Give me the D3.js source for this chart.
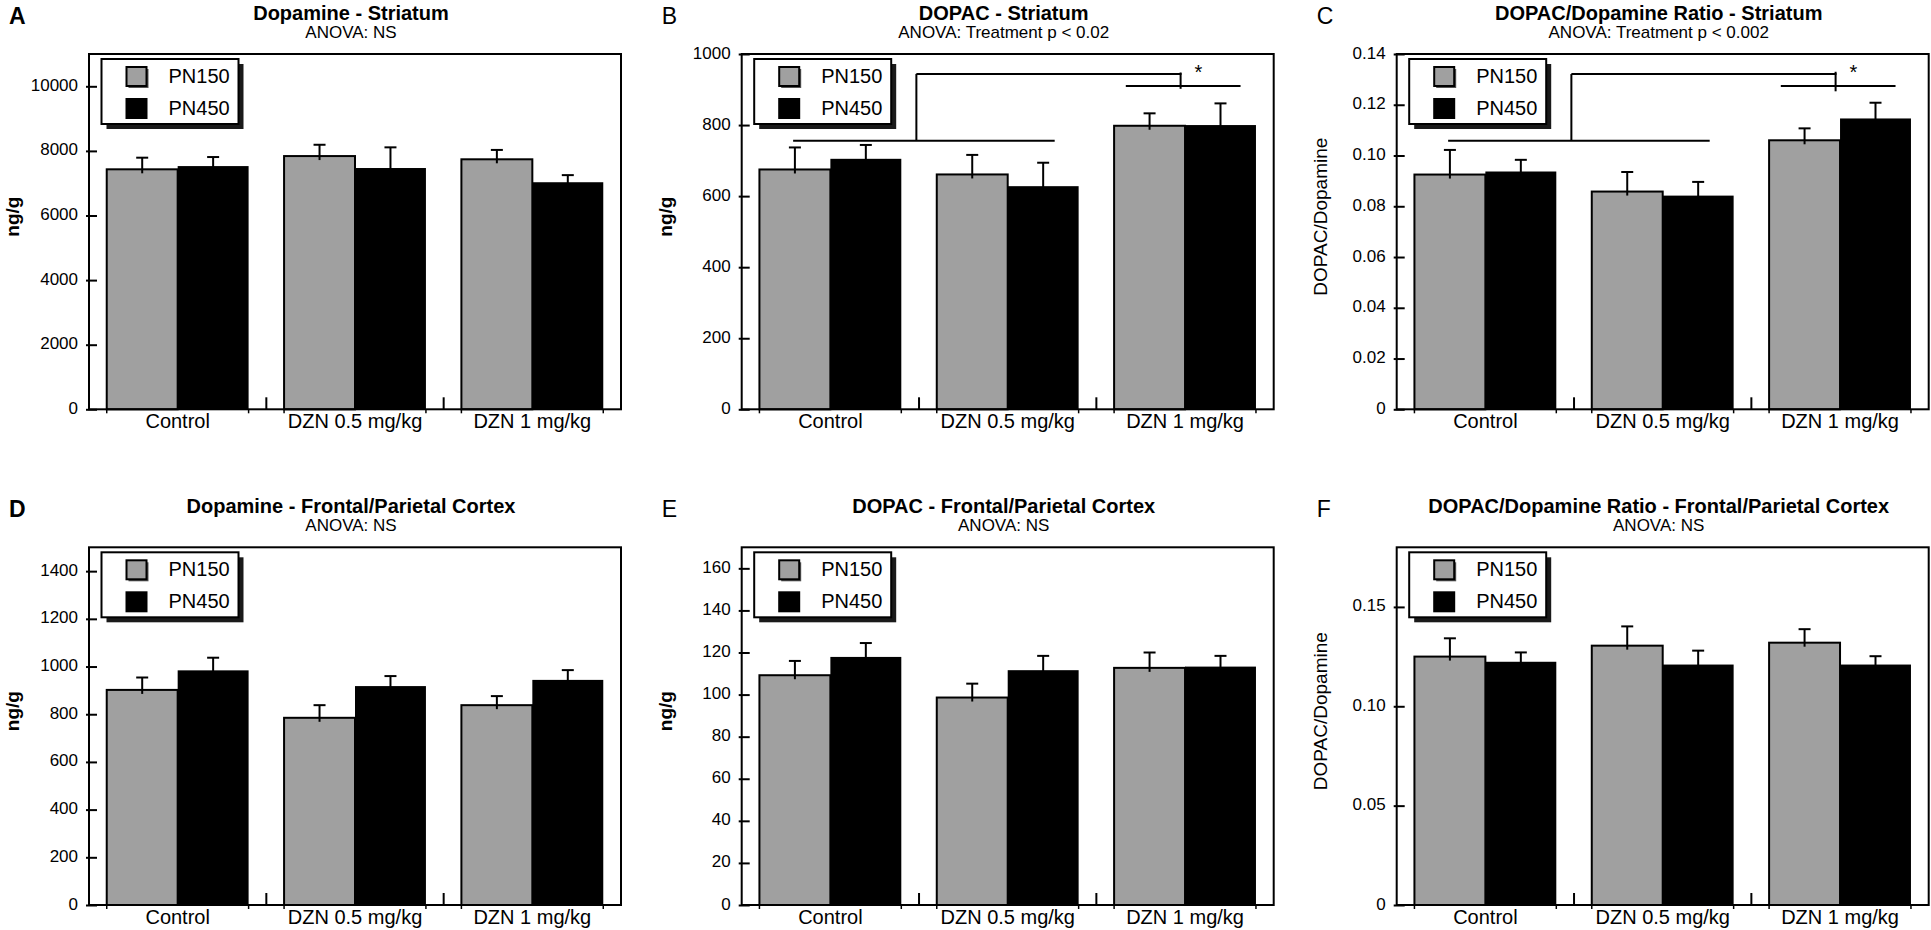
<!DOCTYPE html>
<html>
<head>
<meta charset="utf-8">
<script src="https://cdnjs.cloudflare.com/ajax/libs/d3/7.8.5/d3.min.js"></script>
<style>
  html, body { margin: 0; padding: 0; background: #fff; }
  svg { display: block; }
  text { font-family: "Liberation Sans", Arial, sans-serif; fill: #000; }
</style>
</head>
<body>
<svg id="chart" width="1931" height="930"></svg>
<script>
// ---------------- DATA ----------------
const categories = ["Control", "DZN 0.5 mg/kg", "DZN 1 mg/kg"];
const seriesNames = ["PN150", "PN450"];

// A: Dopamine - Striatum (ng/g)
const daStriatumPN150    = [7430, 7840, 7740];
const daStriatumPN150Sem = [360, 350, 290];
const daStriatumPN450    = [7530, 7470, 7030];
const daStriatumPN450Sem = [280, 640, 220];

// B: DOPAC - Striatum (ng/g)
const dopacStriatumPN150    = [675, 661, 798];
const dopacStriatumPN150Sem = [62, 55, 35];
const dopacStriatumPN450    = [705, 628, 800];
const dopacStriatumPN450Sem = [39, 66, 61];

// C: DOPAC/Dopamine ratio - Striatum
const ratioStriatumPN150    = [0.0925, 0.0858, 0.1060];
const ratioStriatumPN150Sem = [0.0097, 0.0077, 0.0047];
const ratioStriatumPN450    = [0.0937, 0.0842, 0.1146];
const ratioStriatumPN450Sem = [0.0046, 0.0054, 0.0062];

// D: Dopamine - Frontal/Parietal Cortex (ng/g)
const daCortexPN150    = [902, 785, 838];
const daCortexPN150Sem = [52, 53, 38];
const daCortexPN450    = [984, 918, 944];
const daCortexPN450Sem = [53, 42, 41];

// E: DOPAC - Frontal/Parietal Cortex (ng/g)
const dopacCortexPN150    = [109.2, 98.6, 112.7];
const dopacCortexPN150Sem = [6.8, 6.6, 7.3];
const dopacCortexPN450    = [117.9, 111.6, 113.3];
const dopacCortexPN450Sem = [6.6, 6.8, 5.1];

// F: DOPAC/Dopamine ratio - Frontal/Parietal Cortex
const ratioCortexPN150    = [0.1250, 0.1305, 0.1320];
const ratioCortexPN150Sem = [0.0092, 0.0097, 0.0068];
const ratioCortexPN450    = [0.1224, 0.1210, 0.1210];
const ratioCortexPN450Sem = [0.0047, 0.0070, 0.0042];

// axis ticks / domains
const ticksA = [0, 2000, 4000, 6000, 8000, 10000];
const ticksB = [0, 200, 400, 600, 800, 1000];
const ticksC = [0, 0.02, 0.04, 0.06, 0.08, 0.10, 0.12, 0.14];
const ticksD = [0, 200, 400, 600, 800, 1000, 1200, 1400];
const ticksE = [0, 20, 40, 60, 80, 100, 120, 140, 160];
const ticksF = [0, 0.05, 0.10, 0.15];
const tickLabelsA = ["0", "2000", "4000", "6000", "8000", "10000"];
const tickLabelsB = ["0", "200", "400", "600", "800", "1000"];
const tickLabelsC = ["0", "0.02", "0.04", "0.06", "0.08", "0.10", "0.12", "0.14"];
const tickLabelsD = ["0", "200", "400", "600", "800", "1000", "1200", "1400"];
const tickLabelsE = ["0", "20", "40", "60", "80", "100", "120", "140", "160"];
const tickLabelsF = ["0", "0.05", "0.10", "0.15"];
const yMaxes = [11000, 1000, 0.14, 1500, 170, 0.18];

const panelLetters = ["A", "B", "C", "D", "E", "F"];
const titles = ["Dopamine - Striatum", "DOPAC - Striatum", "DOPAC/Dopamine Ratio - Striatum",
                "Dopamine - Frontal/Parietal Cortex", "DOPAC - Frontal/Parietal Cortex",
                "DOPAC/Dopamine Ratio - Frontal/Parietal Cortex"];
const subtitles = ["ANOVA: NS", "ANOVA: Treatment p < 0.02", "ANOVA: Treatment p < 0.002",
                   "ANOVA: NS", "ANOVA: NS", "ANOVA: NS"];
const yLabels = ["ng/g", "ng/g", "DOPAC/Dopamine", "ng/g", "ng/g", "DOPAC/Dopamine"];

// significance brackets (values in data units)
const bracketB = { lowLeft: 756, high: 944, stemTop: 948, stemBottom: 902, lowRight: 910, star: 961 };
const bracketC = { lowLeft: 0.1058, high: 0.1321, stemTop: 0.1330, stemBottom: 0.1253, lowRight: 0.1274, star: 0.1345 };

// ---------------- LAYOUT ----------------
const svg = d3.select("#chart");
const colLeft = [89, 741.7, 1396.7];
const plotW = 532;
const rowTop = [54, 547.3];
const rowBottom = [409.3, 905];
const GRAY = "#a0a0a0";

const panels = [
  { means: [daStriatumPN150, daStriatumPN450], sems: [daStriatumPN150Sem, daStriatumPN450Sem], ticks: ticksA, labels: tickLabelsA, bold: true },
  { means: [dopacStriatumPN150, dopacStriatumPN450], sems: [dopacStriatumPN150Sem, dopacStriatumPN450Sem], ticks: ticksB, labels: tickLabelsB, bracket: bracketB },
  { means: [ratioStriatumPN150, ratioStriatumPN450], sems: [ratioStriatumPN150Sem, ratioStriatumPN450Sem], ticks: ticksC, labels: tickLabelsC, bracket: bracketC },
  { means: [daCortexPN150, daCortexPN450], sems: [daCortexPN150Sem, daCortexPN450Sem], ticks: ticksD, labels: tickLabelsD, bold: true },
  { means: [dopacCortexPN150, dopacCortexPN450], sems: [dopacCortexPN150Sem, dopacCortexPN450Sem], ticks: ticksE, labels: tickLabelsE },
  { means: [ratioCortexPN150, ratioCortexPN450], sems: [ratioCortexPN150Sem, ratioCortexPN450Sem], ticks: ticksF, labels: tickLabelsF }
];

panels.forEach((p, i) => {
  const col = i % 3, row = Math.floor(i / 3);
  const left = colLeft[col], top = rowTop[row];
  const w = plotW, h = rowBottom[row] - top;
  const g = svg.append("g").attr("transform", `translate(${left},${top})`);

  const x0 = d3.scaleBand().domain(categories).range([0, w]).padding(0);
  const bw = x0.bandwidth();
  const x1 = d3.scaleBand().domain(seriesNames).range([0.1 * bw, 0.9 * bw]).padding(0);
  const y = d3.scaleLinear().domain([0, yMaxes[i]]).range([h, 0]);

  // titles
  g.append("text").attr("x", w / 2 - 4).attr("y", -34).attr("text-anchor", "middle")
    .style("font-size", "20px").style("font-weight", "bold").text(titles[i]);
  g.append("text").attr("x", w / 2 - 4).attr("y", -16).attr("text-anchor", "middle")
    .style("font-size", "17px").text(subtitles[i]);
  g.append("text").attr("x", -80).attr("y", -30)
    .style("font-size", "23px").style("font-weight", p.bold ? "bold" : "normal").text(panelLetters[i]);

  // y label
  g.append("text").attr("transform", `translate(-70,${h / 2 - 15}) rotate(-90)`)
    .attr("text-anchor", "middle").style("font-size", "19px")
    .style("font-weight", yLabels[i] === "ng/g" ? "bold" : "normal").text(yLabels[i]);

  // bars
  seriesNames.forEach((s, si) => {
    g.selectAll(null).data(categories).enter().append("rect")
      .attr("x", c => x0(c) + x1(s))
      .attr("y", (c, ci) => y(p.means[si][ci]))
      .attr("width", x1.bandwidth())
      .attr("height", (c, ci) => h - y(p.means[si][ci]))
      .attr("fill", si === 0 ? GRAY : "#000")
      .attr("stroke", si === 0 ? "#000" : "none")
      .attr("stroke-width", 2);
  });

  // error bars
  seriesNames.forEach((s, si) => {
    categories.forEach((c, ci) => {
      const cx = x0(c) + x1(s) + x1.bandwidth() / 2;
      const m = p.means[si][ci], e = p.sems[si][ci];
      g.append("line").attr("x1", cx).attr("x2", cx)
        .attr("y1", y(m) + 4).attr("y2", y(m + e))
        .attr("stroke", "#000").attr("stroke-width", 2);
      g.append("line").attr("x1", cx - 6).attr("x2", cx + 6)
        .attr("y1", y(m + e)).attr("y2", y(m + e))
        .attr("stroke", "#000").attr("stroke-width", 2);
    });
  });

  // frame
  g.append("rect").attr("x", 0).attr("y", 0).attr("width", w).attr("height", h)
    .attr("fill", "none").attr("stroke", "#000").attr("stroke-width", 2);

  // y axis
  const ya = g.append("g").call(
    d3.axisLeft(y).tickValues(p.ticks).tickFormat((d, k) => p.labels[k]).tickSize(3)
  );
  ya.select(".domain").remove();
  ya.selectAll(".tick line").attr("x1", -3).attr("x2", 8).attr("stroke", "#000").attr("stroke-width", 2);
  ya.selectAll(".tick text").attr("x", -11).attr("dy", null).attr("y", 4)
    .style("font-size", "17px").style("font-family", "'Liberation Sans', Arial, sans-serif");

  // x axis labels
  const xa = g.append("g").attr("transform", `translate(0,${h})`)
    .call(d3.axisBottom(x0).tickSize(0));
  xa.select(".domain").remove();
  xa.selectAll(".tick text").attr("y", 19).attr("dy", null)
    .style("font-size", "20px").style("font-family", "'Liberation Sans', Arial, sans-serif");

  // small ticks under bar groups, separators between categories
  categories.forEach((c, ci) => {
    [0.1, 0.9].forEach(f => {
      g.append("line").attr("x1", x0(c) + f * bw).attr("x2", x0(c) + f * bw)
        .attr("y1", h).attr("y2", h + 4).attr("stroke", "#000").attr("stroke-width", 1.5);
    });
    if (ci > 0) {
      g.append("line").attr("x1", x0(c)).attr("x2", x0(c))
        .attr("y1", h).attr("y2", h - 12).attr("stroke", "#000").attr("stroke-width", 2);
    }
  });

  // legend
  const lg = g.append("g").attr("transform", "translate(12.5,5)");
  lg.append("rect").attr("x", 5).attr("y", 5).attr("width", 137).attr("height", 65).attr("fill", "#1a1a1a");
  lg.append("rect").attr("x", 0).attr("y", 0).attr("width", 137).attr("height", 65)
    .attr("fill", "#fff").attr("stroke", "#000").attr("stroke-width", 2);
  seriesNames.forEach((s, si) => {
    const sy = si === 0 ? 8 : 40;
    if (si === 0) {
      lg.append("rect").attr("x", 27).attr("y", sy + 2).attr("width", 20).attr("height", 19).attr("fill", "#555");
    }
    lg.append("rect").attr("x", 25).attr("y", sy).attr("width", 20).attr("height", 19)
      .attr("fill", si === 0 ? GRAY : "#000").attr("stroke", "#000").attr("stroke-width", 2);
    lg.append("text").attr("x", 67).attr("y", si === 0 ? 24 : 56)
      .style("font-size", "20px").text(s);
  });

  // significance brackets
  if (p.bracket) {
    const b = p.bracket;
    const X = (ci, f) => x0(categories[ci]) + f * bw;
    const ln = (xa1, ya1, xa2, ya2) => g.append("line")
      .attr("x1", xa1).attr("y1", ya1).attr("x2", xa2).attr("y2", ya2)
      .attr("stroke", "#000").attr("stroke-width", 2);
    ln(X(0, 0.29), y(b.lowLeft), X(1, 0.765), y(b.lowLeft));
    ln(X(0, 0.985), y(b.lowLeft), X(0, 0.985), y(b.high));
    ln(X(0, 0.985), y(b.high), X(2, 0.48), y(b.high));
    ln(X(2, 0.475), y(b.stemTop), X(2, 0.475), y(b.stemBottom));
    ln(X(2, 0.166), y(b.lowRight), X(2, 0.813), y(b.lowRight));
    g.append("text").attr("x", X(2, 0.576)).attr("y", y(b.star) + 11)
      .attr("text-anchor", "middle").style("font-size", "20px").text("*");
  }
});
</script>
</body>
</html>
